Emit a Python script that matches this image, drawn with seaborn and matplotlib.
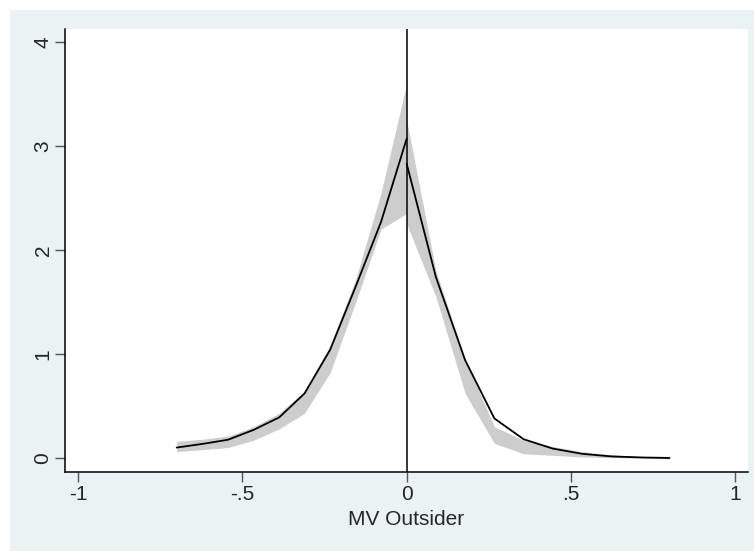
import numpy as np
import matplotlib
matplotlib.use("Agg")
import matplotlib.pyplot as plt
import seaborn as sns
from matplotlib.patches import Rectangle

# ---------------- DATA ----------------
x_left = [-0.700, -0.622, -0.544, -0.466, -0.388, -0.311, -0.233, -0.155, -0.078, 0.0]
y_left = [0.10, 0.135, 0.175, 0.27, 0.39, 0.62, 1.04, 1.65, 2.27, 3.07]
lo_left = [0.06, 0.08, 0.10, 0.17, 0.28, 0.43, 0.82, 1.50, 2.20, 2.35]
hi_left = [0.16, 0.18, 0.21, 0.30, 0.43, 0.64, 1.08, 1.72, 2.55, 3.60]

x_right = [0.0, 0.089, 0.178, 0.267, 0.356, 0.445, 0.534, 0.623, 0.712, 0.800]
y_right = [2.83, 1.74, 0.94, 0.38, 0.18, 0.09, 0.04, 0.015, 0.005, 0.0]
lo_right = [2.25, 1.55, 0.62, 0.14, 0.04, 0.025, 0.01, 0.003, 0.0, -0.01]
hi_right = [3.25, 1.80, 0.95, 0.30, 0.17, 0.11, 0.06, 0.03, 0.015, 0.01]

xticks = [-1, -0.5, 0, 0.5, 1]
xtick_labels = ["-1", "-.5", "0", ".5", "1"]
yticks = [0, 1, 2, 3, 4]
ytick_labels = ["0", "1", "2", "3", "4"]

BG = "#EAF2F3"
BAND = "#CDCDCD"

# ---------------- PLOT ----------------
sns.set_style("ticks")
plt.rcParams["font.family"] = ["Liberation Sans", "DejaVu Sans"]

fig = plt.figure(figsize=(7.54, 5.51), dpi=100, facecolor="white")
bg = Rectangle((10 / 754, 0), 744 / 754, 541 / 551,
               transform=fig.transFigure, facecolor=BG,
               edgecolor="none", zorder=-10)
fig.add_artist(bg)

ax = fig.add_axes([65 / 754, 1 - 472 / 551, 683 / 754, 443 / 551])
ax.set_zorder(1)
ax.set_facecolor("white")

ax.fill_between(x_left, lo_left, hi_left, color=BAND, lw=0, zorder=1)
ax.fill_between(x_right, lo_right, hi_right, color=BAND, lw=0, zorder=1)

sns.lineplot(x=x_left, y=y_left, color="black", lw=1.3, ax=ax, zorder=3)
sns.lineplot(x=x_right, y=y_right, color="black", lw=1.3, ax=ax, zorder=3)

ax.axvline(0, color="black", lw=1.1, zorder=4)

ax.set_xlim(-1.04, 1.039)
ax.set_ylim(-0.135, 4.125)

ax.set_xticks(xticks)
ax.set_xticklabels(xtick_labels)
ax.set_yticks(yticks)
ax.set_yticklabels(ytick_labels, rotation=90, va="center")

ax.tick_params(axis="both", labelsize=15, length=7, width=1, color="#555555",
               pad=2)
ax.set_xlabel("MV Outsider", fontsize=15, labelpad=5)
ax.set_ylabel("")

sns.despine(ax=ax, top=True, right=True)
for s in ["left", "bottom"]:
    ax.spines[s].set_color("black")
    ax.spines[s].set_linewidth(1.1)

fig.savefig("out.png", dpi=100, facecolor="white")
plt.close()
